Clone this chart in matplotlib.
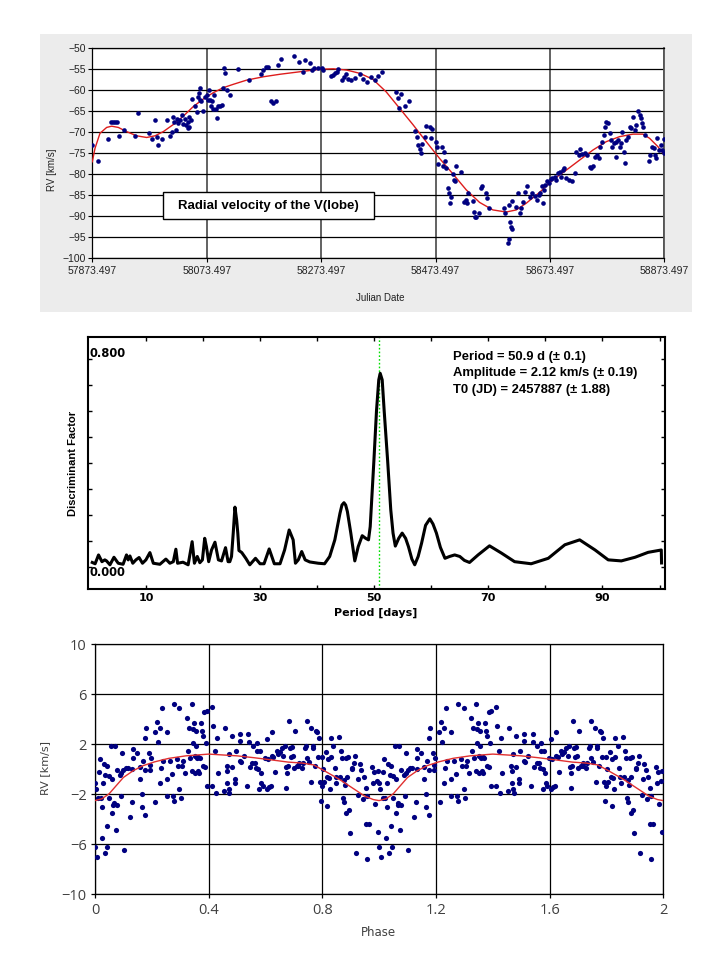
import matplotlib
import matplotlib.pyplot as plt
import numpy as np
from matplotlib.patches import Rectangle

matplotlib.use("Agg")

NARROW = ["Liberation Sans Narrow", "Liberation Sans", "DejaVu Sans"]
ARIAL = ["Liberation Sans", "DejaVu Sans"]

# ---- top panel: radial velocity vs Julian date (days after JD0)
jd0 = 57873.497
t_days = [
    0, 9.3, 26.8, 32.6, 36.7, 40.2, 43.1, 46.0, 55.4, 74.6,
    80.4, 99.6, 103.7, 109.6, 112.5, 115.4, 122.4, 130.5, 135.8, 138.7,
    141.6, 143.4, 145.7, 147.5, 149.2, 153.3, 156.2, 159.1, 162.0, 163.8,
    166.7, 167.8, 168.2, 169.6, 172.5, 174.2, 179.5, 182.4, 184.7, 187.1,
    188.2, 188.2, 190.6, 192.9, 197.0, 199.9, 201.7, 204.5, 205.7, 208.0,
    209.8, 211.5, 213.3, 216.2, 217.4, 220.3, 223.2, 226.7, 229.0, 230.8,
    232.5, 234.9, 240.7, 255.2, 273.9, 294.9, 299.0, 303.0, 306.5, 312.4,
    316.4, 320.5, 325.2, 330.4, 353.1, 361.9, 368.9, 371.8, 380.5, 383.4,
    387.5, 395.1, 400.9, 402.7, 416.7, 421.3, 424.2, 427.2, 428.9, 435.9,
    440.0, 443.5, 447.6, 452.2, 459.2, 468.0, 473.8, 479.6, 487.4, 493.2,
    499.1, 506.0, 531.1, 534.0, 535.8, 539.8, 545.7, 552.7, 563.2, 567.2,
    569.0, 571.9, 574.8, 576.6, 581.8, 583.6, 590.5, 592.3, 594.0, 599.9,
    602.8, 604.0, 611.5, 612.7, 614.4, 615.6, 618.5, 622.0, 623.8, 624.3,
    627.3, 630.2, 631.9, 634.3, 636.0, 644.7, 649.4, 652.3, 654.6, 656.4,
    665.1, 666.9, 668.0, 671.0, 675.0, 678.5, 680.9, 687.3, 689.6, 692.5,
    718.7, 721.7, 726.3, 727.5, 727.5, 729.2, 732.2, 733.3, 733.9, 740.9,
    743.8, 746.7, 749.6, 752.5, 756.6, 760.1, 764.2, 768.3, 772.9, 777.0,
    779.9, 782.8, 785.8, 787.5, 789.3, 791.6, 794.5, 797.4, 800.9, 803.8,
    807.9, 810.8, 813.7, 816.7, 819.6, 822.5, 824.2, 828.3, 833.0, 838.2,
    842.9, 845.8, 849.9, 852.8, 856.3, 860.4, 865.0, 869.1, 872.0, 874.9,
    879.0, 881.9, 884.8, 887.7, 890.7, 893.6, 895.3, 898.2, 901.2, 904.0,
    907.0, 908.7, 911.6, 914.6, 915.7, 918.6, 921.5, 924.5, 926.2, 929.1,
    931.5, 933.2, 936.1, 939.0, 942.0, 944.9, 947.8, 949.5, 953.6, 956.5,
    958.3, 960.6, 962.3, 965.3, 972.8, 975.2, 978.1, 981.0, 983.9, 985.7,
    987.4, 990.3, 993.2, 996.1, 998.5, 1000.0,
]
rv_time = [
    -73.1, -76.8, -71.7, -67.7, -67.7, -67.7, -67.7, -70.9, -69.5, -70.9,
    -65.4, -70.3, -71.7, -67.1, -71.1, -73.1, -71.7, -67.1, -70.9, -69.9,
    -66.3, -67.5, -69.5, -67.0, -67.8, -67.1, -65.9, -68.1, -67.0, -68.3,
    -67.7, -69.1, -68.9, -66.3, -67.1, -62.2, -63.8, -65.1, -61.6, -60.7,
    -59.4, -62.3, -62.7, -64.9, -61.6, -61.1, -62.3, -59.9, -62.3, -63.9,
    -62.7, -64.5, -61.1, -64.5, -66.7, -63.9, -63.9, -63.5, -59.6, -54.8,
    -55.8, -60.0, -61.1, -54.9, -57.6, -56.2, -55.2, -54.5, -54.4, -62.6,
    -63.0, -62.6, -54.1, -52.5, -51.8, -53.2, -55.6, -52.8, -53.6, -55.2,
    -54.6, -54.6, -54.6, -55.3, -56.6, -56.4, -56.0, -55.6, -55.0, -57.6,
    -56.8, -56.2, -57.4, -57.6, -57.2, -56.2, -57.4, -58.0, -56.8, -57.6,
    -56.5, -55.6, -60.4, -61.8, -64.3, -61.0, -63.9, -62.6, -69.7, -71.3,
    -73.1, -74.1, -74.9, -72.9, -71.3, -68.5, -68.9, -71.5, -69.3, -72.3,
    -73.6, -77.7, -73.5, -78.2, -74.7, -76.9, -78.5, -83.3, -84.6, -86.9,
    -85.4, -80.1, -81.4, -81.7, -78.1, -79.5, -86.6, -86.2, -87.0, -84.6,
    -86.5, -89.0, -90.4, -90.2, -89.4, -83.4, -83.0, -84.5, -85.7, -88.2,
    -88.2, -89.3, -96.4, -95.6, -87.4, -91.6, -92.6, -93.2, -86.5, -88.0,
    -84.6, -89.4, -88.2, -86.6, -84.2, -83.0, -85.4, -84.6, -85.2, -86.2,
    -85.0, -84.6, -83.0, -86.9, -83.8, -82.6, -81.8, -82.2, -81.3, -81.0,
    -80.7, -81.4, -79.9, -79.5, -80.7, -79.1, -78.5, -81.0, -81.4, -81.8,
    -79.9, -74.7, -75.5, -74.1, -75.2, -75.0, -75.5, -78.3, -78.7, -78.1,
    -75.9, -75.5, -76.3, -73.5, -72.3, -70.7, -68.9, -67.5, -67.9, -70.3,
    -71.9, -73.5, -72.7, -72.3, -75.9, -71.9, -73.5, -72.7, -69.9, -74.7,
    -77.5, -71.9, -71.1, -68.7, -69.1, -66.5, -69.5, -68.3, -64.9, -65.9,
    -66.7, -67.9, -68.7, -70.7, -76.9, -75.5, -73.5, -73.9, -75.5, -76.3,
    -71.5, -74.3, -73.1, -74.3, -71.7, -75.1,
]
fit_days = [
    0, 4.7, 13.4, 25.1, 33.8, 45.5, 60.0, 77.5, 95.0, 109.6, 124.1, 141.6,
    159.1, 176.6, 194.1, 211.5, 229.0, 246.5, 269.8, 299.0, 328.1, 363.1,
    398.1, 421.3, 444.6, 468.0, 490.3, 513.6, 536.9, 560.2, 583.6, 606.9,
    630.2, 653.5, 676.8, 700.1, 723.4, 740.9, 758.4, 781.7, 805.0, 828.3,
    851.6, 874.9, 898.2, 921.5, 944.9, 962.3, 974.0, 988.6, 1000.0,
]
fit_rv = [
    -77.1, -73.9, -70.3, -68.9, -68.6, -68.9, -69.9, -70.9, -71.3, -70.9,
    -69.9, -68.2, -66.2, -63.9, -62.1, -60.6, -59.4, -58.6, -57.6, -56.8,
    -56.2, -55.6, -55.0, -54.9, -55.2, -56.0, -57.4, -60.4, -64.3, -68.2,
    -72.3, -76.3, -80.0, -83.8, -86.8, -88.6, -89.1, -88.6, -87.0, -84.4,
    -81.4, -79.1, -76.7, -74.3, -72.3, -71.1, -70.5, -70.5, -71.5, -73.5,
    -75.5,
]

# ---- middle panel: period search
period_days = [
    0.6, 1.1, 1.7, 2.3, 2.8, 3.1, 3.7, 4.4, 5.15, 6.0, 6.6, 6.9, 7.2, 7.7,
    8.25, 8.8, 9.4, 10.0, 10.7, 11.3, 12.45, 13.5, 14.2, 14.8, 15.25, 15.55,
    16.5, 17.4, 18.1, 18.5, 19.0, 19.45, 19.9, 20.3, 20.6, 21.0, 21.5, 22.1,
    22.7, 23.25, 23.95, 24.4, 24.7, 25.0, 25.3, 25.6, 25.9, 26.1, 26.3, 26.8,
    27.5, 28.2, 29.2, 30.0, 30.7, 31.6, 32.5, 33.5, 34.3, 35.1, 35.8, 36.2,
    36.7, 37.3, 37.9, 38.7, 40.2, 41.3, 42.2, 43.1, 44.0, 44.35, 44.7, 45.0,
    45.3, 45.9, 46.6, 47.2, 47.9, 48.5, 49.0, 49.3, 49.95, 50.4, 50.8, 51.05,
    51.4, 51.75, 52.35, 52.9, 53.3, 53.7, 54.3, 54.9, 55.5, 56.0, 56.6, 57.1,
    57.7, 58.3, 59.0, 59.75, 60.3, 60.9, 61.6, 62.4, 63.2, 64.1, 65.0, 65.8,
    66.7, 68.2, 70.2, 72.3, 74.6, 77.5, 80.5, 83.4, 86.0, 88.7, 91.0, 93.3,
    95.7, 98.0, 100.3, 100.35,
]
disc_factor = [
    0.017, 0.012, 0.046, 0.020, 0.027, 0.023, 0.008, 0.037, 0.014, 0.010,
    0.046, 0.027, 0.042, 0.014, 0.027, 0.036, 0.014, 0.027, 0.055, 0.014,
    0.010, 0.030, 0.014, 0.020, 0.068, 0.014, 0.018, 0.008, 0.097, 0.014,
    0.040, 0.016, 0.027, 0.110, 0.078, 0.020, 0.065, 0.095, 0.027, 0.023,
    0.074, 0.020, 0.020, 0.040, 0.130, 0.230, 0.180, 0.130, 0.063, 0.055,
    0.033, 0.008, 0.033, 0.012, 0.012, 0.069, 0.012, 0.012, 0.065, 0.142,
    0.104, 0.014, 0.027, 0.059, 0.027, 0.019, 0.014, 0.012, 0.040, 0.104,
    0.206, 0.238, 0.247, 0.238, 0.213, 0.130, 0.023, 0.078, 0.120, 0.110,
    0.104, 0.155, 0.410, 0.600, 0.720, 0.745, 0.720, 0.600, 0.410, 0.220,
    0.130, 0.080, 0.110, 0.130, 0.110, 0.078, 0.030, 0.008, 0.040, 0.091,
    0.160, 0.185, 0.165, 0.130, 0.075, 0.033, 0.040, 0.046, 0.040, 0.025,
    0.017, 0.046, 0.081, 0.053, 0.020, 0.012, 0.033, 0.085, 0.104, 0.065,
    0.027, 0.023, 0.037, 0.056, 0.065, 0.015,
]
best_period = 50.9
info_lines = [
    "Period = 50.9 d (\u00b1 0.1)",
    "Amplitude = 2.12 km/s (\u00b1 0.19)",
    "T0 (JD) = 2457887 (\u00b1 1.88)",
]

# ---- bottom panel: phase-folded RV (shown twice, 0-1 and 1-2)
phase = [
    0.000, 0.004, 0.000, 0.006, 0.012, 0.020, 0.026, 0.018, 0.015, 0.027,
    0.032, 0.023, 0.035, 0.044, 0.037, 0.041, 0.043, 0.050, 0.050, 0.056,
    0.059, 0.065, 0.059, 0.070, 0.068, 0.076, 0.078, 0.074, 0.088, 0.090,
    0.093, 0.096, 0.103, 0.100, 0.108, 0.115, 0.123, 0.129, 0.135, 0.132,
    0.135, 0.149, 0.158, 0.164, 0.164, 0.158, 0.176, 0.170, 0.177, 0.176,
    0.180, 0.192, 0.190, 0.198, 0.192, 0.213, 0.217, 0.211, 0.223, 0.229,
    0.237, 0.231, 0.229, 0.238, 0.252, 0.254, 0.254,
    0.264, 0.270, 0.273, 0.279, 0.278, 0.287, 0.293, 0.297, 0.297, 0.303,
    0.307, 0.311, 0.317, 0.323, 0.326, 0.331, 0.334, 0.340, 0.340, 0.344,
    0.346, 0.349, 0.351, 0.352, 0.354, 0.355, 0.358, 0.361, 0.364, 0.367,
    0.369, 0.372, 0.375, 0.379, 0.381, 0.385, 0.387, 0.389, 0.393, 0.395,
    0.411, 0.413, 0.416, 0.422, 0.426, 0.430, 0.434, 0.454, 0.457, 0.463,
    0.466, 0.466, 0.470, 0.472, 0.473, 0.481, 0.483, 0.493, 0.493, 0.496,
    0.510, 0.510, 0.510, 0.514, 0.524, 0.534, 0.540, 0.543, 0.545, 0.554,
    0.555, 0.563, 0.567, 0.571, 0.571, 0.575, 0.578, 0.581, 0.583, 0.586,
    0.590, 0.598, 0.604, 0.606, 0.610, 0.613, 0.618, 0.622, 0.622, 0.628,
    0.634, 0.639, 0.645, 0.651, 0.657, 0.663, 0.669, 0.671, 0.674, 0.677,
    0.680, 0.684, 0.686, 0.689, 0.692, 0.696, 0.700, 0.704, 0.710, 0.716,
    0.719, 0.727, 0.733, 0.739, 0.741, 0.745, 0.747, 0.754, 0.759, 0.762,
    0.766, 0.768, 0.774, 0.778, 0.780, 0.784, 0.789, 0.792, 0.795, 0.798,
    0.800, 0.801, 0.806, 0.812, 0.815, 0.818, 0.821, 0.823, 0.827, 0.829,
    0.830, 0.839, 0.845, 0.848, 0.850, 0.858,
    0.866, 0.868, 0.882, 0.862, 0.876, 0.880, 0.888, 0.915, 0.911, 0.932,
    0.905, 0.927, 0.938, 0.946, 0.953, 0.876, 0.895, 0.885, 0.924, 0.942,
    0.956, 0.953, 0.965, 0.897, 0.918, 0.956, 0.976, 0.983, 0.979, 0.985,
    0.997, 0.991, 0.995, 0.874, 0.889, 0.903,
]
rv_phase = [
    -1.12, -1.60, -6.24, -6.99, -2.32, -2.32, -2.99, 0.80, -0.19, -1.12,
    0.42, -5.52, -6.72, -6.19, -0.46, -4.51, 0.26, -2.32, -0.54, 1.86,
    -0.80, -2.86, -3.52, 1.86, -2.72, -0.06, -2.86, -4.86, -0.46, -2.14,
    -0.27, 1.28, -6.46, -0.06, 0.08, 0.08, -3.79, -2.59, 1.60, 0.02,
    0.88, 1.28, 0.21, -1.98, -2.99, -0.80, -3.66, 0.66, -0.06, 2.48,
    3.33, -0.06, 1.28, 0.88, 0.34, -2.59, 3.76, 3.01, 2.21, 3.28,
    4.88, 0.08, -1.07, 0.66, -2.14, -0.80, 2.96,
    0.7, -0.4, -2.1, 5.2, -2.5, 0.8, 0.3, 4.9, -1.6, -2.3,
    0.3, 0.7, -0.3, 4.1, 1.5, 3.3, 0.9, 5.2, -0.1, 3.2,
    2.1, 3.7, 1.1, -0.3, 3.1, 1.9, 0.9, -0.1, 1.0, -0.3,
    0.9, 3.7, 3.1, 0.3, 2.7, 4.6, 0.2, 2.1, -1.3, 4.7,
    5.0, -1.3, 3.5, 1.5, -1.9, 2.5, -0.3, -1.7, 3.3, 0.3,
    -0.1, -1.1, 1.2, -1.6, -1.9, 0.2, 2.7, -0.8, -1.1, 1.5,
    0.7, 2.8, 2.3, 0.6, 1.1, -1.3, 2.8, 2.2, 0.2, 0.5,
    1.9, 0.5, 0.1, 1.5, 2.1, 0.0, -1.6, 1.5, -0.3, -1.1,
    -1.3, 0.9, 2.4, -1.6, 0.8, -1.4, -1.3, 3.0, 1.1, 1.0,
    -0.2, 1.5, 1.2, 1.4, 1.7, 1.1, 1.9, 0.2, -1.5, -0.3,
    0.3, 3.9, 1.7, 1.0, 1.8, 1.1, 0.1, 3.1, 0.3, 0.3,
    0.5, 0.1, 0.5, 1.7, 1.9, 3.9, 0.9, 0.6, 3.3, -1.0,
    1.9, 1.7, 0.3, 3.1, 3.0, 1.0, 2.5, -1.0, -2.5, 1.0,
    -1.3, 0.0, -1.0, 1.4, -0.6, -2.9, 0.8, -0.7, -1.6, 2.5,
    1.0, 1.9, 0.1, -0.6, -1.1, 2.55,
    1.46, 0.88, 0.88, -0.64, -0.86, -1.26, -0.64, 1.09, 0.53, 0.42,
    0.02, -0.78, -0.06, -0.59, -1.47, -2.59, -3.26, -3.52, -2.06, -2.40,
    -2.14, -4.38, -4.38, -5.07, -6.67, -7.20, 0.21, -0.22, -1.12, -2.80,
    -0.14, -0.91, -5.00, -2.3, 1.0, 0.1,
]
fit_phase = [
    0.0, 0.025, 0.05, 0.075, 0.1, 0.135, 0.17, 0.21, 0.26, 0.32, 0.4,
    0.5, 0.56, 0.62, 0.68, 0.73, 0.77, 0.81, 0.86, 0.91, 0.95, 0.98, 1.0,
]
fit_phase_rv = [
    -2.5, -2.35, -1.95, -1.3, -0.65, -0.1, 0.3, 0.6, 0.88, 1.08, 1.22,
    1.08, 0.93, 0.76, 0.58, 0.5, 0.35, -0.15, -0.8, -1.55, -2.15, -2.42, -2.5,
]

fig = plt.figure(figsize=(7.2, 9.6), dpi=100)

# ================= top panel =================
# grey frame behind the first chart (drawn below the axes)
fig.patches.append(Rectangle((0.0556, 0.675), 0.9055, 0.2896, transform=fig.transFigure,
                             facecolor="#ececec", edgecolor="none", zorder=-5))
ax1 = fig.add_axes([0.1282, 0.7316, 0.7947, 0.2181])
ax1.set_facecolor("white")
ax1.set_xlim(jd0, jd0 + 1000)
ax1.set_ylim(-100, -50)
xt = jd0 + np.arange(0, 1001, 200)
ax1.set_xticks(xt)
ax1.set_xticklabels([f"{v:.3f}" for v in xt])
ax1.set_yticks(np.arange(-100, -49, 5))
ax1.xaxis.grid(True, color="#555555", lw=1.3)
ax1.yaxis.grid(True, color="black", lw=0.9)
ax1.set_axisbelow(True)
for s in ["left", "bottom", "top"]:
    ax1.spines[s].set_color("black")
    ax1.spines[s].set_linewidth(0.9)
ax1.spines["right"].set_color("#555555")
ax1.spines["right"].set_linewidth(1.3)
ax1.tick_params(direction="out", length=3, width=0.8, pad=1.5, labelsize=7.5,
                labelcolor="#222222")
for lbl in ax1.get_xticklabels() + ax1.get_yticklabels():
    lbl.set_family(NARROW)
ax1.tick_params(axis="x", pad=3)

ax1.plot(jd0 + np.array(fit_days), fit_rv, color="#dd1c1c", lw=1, zorder=3)
ax1.scatter(jd0 + np.array(t_days), rv_time, s=11, color="#000080", zorder=4, linewidths=0)

ax1.add_patch(Rectangle((0.1236, 0.1848), 0.3687, 0.129, transform=ax1.transAxes,
                        facecolor="white", edgecolor="black", lw=1, zorder=5))
ax1.text(0.308, 0.249, "Radial velocity of the V(lobe)", transform=ax1.transAxes,
         ha="center", va="center", fontsize=9.5, fontweight="bold", family=ARIAL, zorder=6)

fig.text(52 / 720, 1 - 170 / 960, "RV [km/s]", rotation=90, ha="center", va="center",
         fontsize=7, family=NARROW, color="#222222")
fig.text(380 / 720, 1 - 298 / 960, "Julian Date", ha="center", va="center",
         fontsize=7, family=NARROW, color="#222222")

# ================= middle panel =================
ax2 = fig.add_axes([0.1218, 0.3865, 0.8014, 0.2625])
ax2.set_xlim(-0.2, 100.9)
ax2.set_ylim(-0.085, 0.885)
ax2.plot(period_days, disc_factor, color="black", lw=2.2, solid_joinstyle="round", zorder=3)
ax2.axvline(best_period, color="#00e000", ls=(0, (1.2, 1.5)), lw=1, zorder=2)
ax2.set_xticks(np.arange(10, 101, 10))
ax2.set_xticklabels(["10", "", "30", "", "50", "", "70", "", "90", ""])
ax2.set_yticks(np.arange(0, 0.81, 0.1))
ax2.set_yticklabels([])
ax2.tick_params(direction="in", top=True, right=True, length=3, width=1, pad=3,
                labelsize=8)
for lbl in ax2.get_xticklabels():
    lbl.set_fontweight("bold")
    lbl.set_family("DejaVu Sans")
for s in ax2.spines.values():
    s.set_linewidth(1.5)

ax2.text(0.19, 0.823, "0.800", fontsize=8.3, fontweight="bold", va="center", ha="left")
ax2.text(0.19, -0.02, "0.000", fontsize=8.3, fontweight="bold", va="center", ha="left")
for i, line in enumerate(info_lines):
    ax2.text(63.8, 0.809 - 0.064 * i, line, fontsize=9.4, fontweight="bold",
             family=ARIAL, ha="left", va="center")

fig.text(73 / 720, 1 - 463 / 960, "Discriminant Factor", rotation=90, ha="center",
         va="center", fontsize=8, fontweight="bold", family=ARIAL)
fig.text(376 / 720, 1 - 613 / 960, "Period [days]", ha="center", va="center",
         fontsize=8, fontweight="bold")

# ================= bottom panel =================
ax3 = fig.add_axes([0.1319, 0.0684, 0.7893, 0.2604])
ax3.set_xlim(0, 2)
ax3.set_ylim(-10, 10)
ax3.set_xticks([0, 0.4, 0.8, 1.2, 1.6, 2.0])
ax3.set_xticklabels(["0", "0.4", "0.8", "1.2", "1.6", "2"])
ax3.set_yticks([-10, -6, -2, 2, 6, 10])
ax3.grid(True, color="black", lw=0.9)
ax3.set_axisbelow(True)
for s in ax3.spines.values():
    s.set_linewidth(0.9)
ax3.tick_params(direction="out", length=3, width=0.9, pad=3, labelsize=10.5,
                labelcolor="#404040")
for lbl in ax3.get_xticklabels() + ax3.get_yticklabels():
    lbl.set_family(["Open Sans", "DejaVu Sans"])

ph = np.array(phase)
fp = np.array(fit_phase)
ax3.scatter(np.concatenate([ph, ph + 1]), rv_phase + rv_phase, s=14, color="#000080",
            zorder=3, linewidths=0)
ax3.plot(np.concatenate([fp, fp + 1]), fit_phase_rv + fit_phase_rv, color="#e03030",
         lw=1, zorder=4)

fig.text(45 / 720, 1 - 768 / 960, "RV [km/s]", rotation=90, ha="center", va="center",
         fontsize=8, color="#404040")
fig.text(378 / 720, 1 - 932 / 960, "Phase", ha="center", va="center",
         fontsize=8.5, color="#404040")

fig.savefig("out.png", dpi=100)
